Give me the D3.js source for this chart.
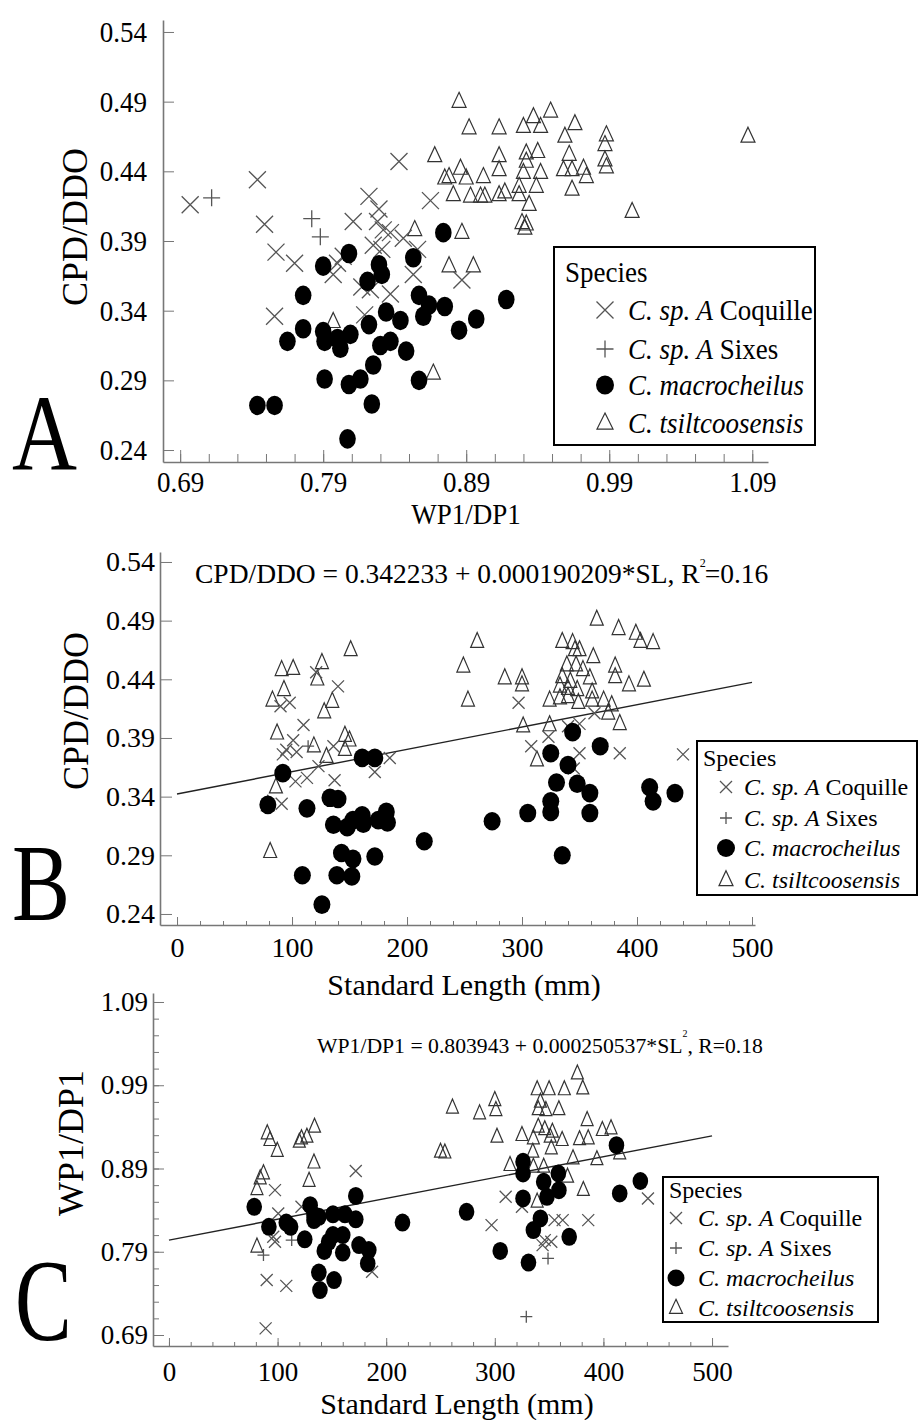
<!DOCTYPE html>
<html>
<head>
<meta charset="utf-8">
<script src="https://cdn.jsdelivr.net/npm/d3@7"></script>
<style>
  body { margin: 0; background: #fff; }
  text { font-family: "Liberation Serif", "Times New Roman", serif; }
</style>
</head>
<body>
<svg id="fig" width="919" height="1420"></svg>
<script>
// ---- data ----
const legendLabels = [
  [["C. sp. A", true], [" Coquille", false]],
  [["C. sp. A", true], [" Sixes", false]],
  [["C. macrocheilus", true]],
  [["C. tsiltcoosensis", true]],
];
const ticksCPD = [0.24, 0.29, 0.34, 0.39, 0.44, 0.49, 0.54];
const ticksWP = [0.69, 0.79, 0.89, 0.99, 1.09];
const ticksSL = [0, 100, 200, 300, 400, 500];

// A: WP1/DP1 (x) vs CPD/DDO (y)
const aCoquille = [[0.697,0.416],[0.744,0.434],[0.749,0.402],[0.757,0.382],[0.770,0.374],[0.756,0.336],[0.843,0.447],[0.822,0.422],[0.829,0.413],[0.811,0.404],[0.828,0.404],[0.832,0.398],[0.837,0.396],[0.846,0.392],[0.825,0.387],[0.831,0.384],[0.856,0.384],[0.804,0.379],[0.800,0.374],[0.797,0.366],[0.817,0.357],[0.823,0.355],[0.837,0.352],[0.853,0.366],[0.865,0.419],[0.887,0.362],[0.819,0.337]];
const aSixes = [[0.712,0.421],[0.782,0.406],[0.788,0.393]];
const aMacro = [[0.808,0.381],[0.790,0.372],[0.829,0.373],[0.831,0.366],[0.821,0.361],[0.853,0.378],[0.874,0.396],[0.776,0.351],[0.857,0.351],[0.864,0.344],[0.875,0.343],[0.860,0.336],[0.834,0.339],[0.844,0.333],[0.822,0.330],[0.776,0.327],[0.765,0.318],[0.790,0.325],[0.791,0.318],[0.800,0.320],[0.809,0.323],[0.802,0.313],[0.830,0.315],[0.837,0.318],[0.848,0.311],[0.825,0.301],[0.885,0.326],[0.897,0.334],[0.791,0.291],[0.808,0.287],[0.816,0.291],[0.857,0.290],[0.744,0.272],[0.756,0.272],[0.824,0.273],[0.807,0.248],[0.918,0.348]];
const aTsilt = [[0.885,0.490],[0.892,0.471],[0.913,0.471],[0.930,0.472],[0.937,0.479],[0.942,0.472],[0.949,0.483],[0.959,0.465],[0.966,0.474],[0.988,0.466],[0.987,0.459],[0.987,0.448],[0.988,0.443],[1.087,0.465],[1.006,0.411],[0.868,0.451],[0.875,0.435],[0.886,0.442],[0.890,0.435],[0.902,0.436],[0.913,0.451],[0.913,0.441],[0.932,0.453],[0.940,0.454],[0.932,0.447],[0.942,0.439],[0.930,0.439],[0.962,0.452],[0.958,0.441],[0.964,0.441],[0.972,0.442],[0.974,0.436],[0.964,0.427],[0.881,0.423],[0.893,0.422],[0.900,0.422],[0.903,0.422],[0.913,0.423],[0.917,0.425],[0.927,0.423],[0.927,0.429],[0.939,0.429],[0.934,0.416],[0.929,0.403],[0.932,0.402],[0.931,0.399],[0.887,0.396],[0.878,0.372],[0.895,0.372],[0.867,0.295],[0.878,0.436],[0.854,0.398],[0.797,0.332]];

// B: standard length (x) vs CPD/DDO (y)
const bCoquille = [[121,0.446],[140,0.434],[98,0.420],[90,0.417],[110,0.401],[101,0.388],[95,0.380],[92,0.376],[104,0.378],[136,0.383],[123,0.366],[185,0.373],[172,0.361],[103,0.353],[113,0.356],[137,0.354],[91,0.334],[297,0.420],[308,0.383],[323,0.391],[340,0.400],[350,0.402],[363,0.411],[350,0.377],[385,0.377],[440,0.376],[345,0.364]];
const bSixes = [[114,0.383]];
const bMacro = [[161,0.373],[172,0.373],[92,0.360],[79,0.333],[113,0.330],[133,0.339],[140,0.338],[136,0.316],[148,0.314],[161,0.324],[162,0.317],[175,0.320],[182,0.327],[183,0.318],[153,0.320],[143,0.292],[153,0.287],[172,0.289],[215,0.302],[109,0.273],[139,0.273],[152,0.272],[126,0.248],[344,0.395],[368,0.383],[325,0.377],[340,0.367],[330,0.352],[348,0.351],[359,0.343],[325,0.336],[325,0.327],[305,0.326],[359,0.326],[274,0.319],[335,0.290],[411,0.348],[414,0.336],[433,0.343]];
const bTsilt = [[151,0.465],[91,0.448],[101,0.449],[126,0.454],[122,0.440],[93,0.431],[83,0.422],[135,0.421],[128,0.412],[87,0.394],[119,0.383],[146,0.392],[150,0.388],[146,0.380],[130,0.374],[86,0.348],[81,0.293],[79,0.333],[365,0.491],[384,0.483],[399,0.479],[403,0.472],[414,0.471],[261,0.472],[249,0.451],[253,0.422],[285,0.441],[300,0.441],[300,0.435],[335,0.472],[344,0.471],[346,0.465],[350,0.465],[362,0.459],[339,0.452],[347,0.452],[353,0.448],[381,0.451],[381,0.442],[393,0.435],[406,0.439],[335,0.442],[342,0.438],[359,0.441],[333,0.434],[340,0.432],[348,0.431],[361,0.429],[324,0.422],[333,0.424],[340,0.425],[349,0.420],[361,0.422],[371,0.422],[378,0.418],[375,0.411],[385,0.402],[301,0.400],[324,0.401],[313,0.371]];
const fitB = [0.342233, 0.000190209];

// C: standard length (x) vs WP1/DP1 (y)
const cCoquille = [[172,0.887],[97.6,0.864],[100.6,0.836],[122,0.844],[97.6,0.802],[96,0.808],[90,0.756],[108,0.749],[89,0.698],[187,0.766],[310,0.856],[297,0.822],[325,0.844],[355,0.828],[362.5,0.828],[386,0.828],[346,0.804],[352,0.802],[344,0.798],[441,0.854]];
const cSixes = [[113,0.804],[87,0.786],[349,0.782],[329,0.712]];
const cMacro = [[78.5,0.844],[92,0.820],[108,0.825],[112,0.820],[125,0.805],[130,0.846],[133.5,0.834],[138,0.832],[151,0.835],[162,0.835],[172,0.857],[172,0.829],[133.5,0.828],[151,0.810],[160,0.810],[147,0.802],[143,0.791],[160,0.789],[175,0.798],[184,0.792],[183,0.776],[138,0.765],[152,0.756],[139,0.744],[215,0.825],[412,0.918],[326,0.898],[326,0.884],[358.5,0.884],[345,0.874],[359,0.864],[348,0.856],[326,0.854],[434,0.875],[415,0.860],[274,0.838],[342,0.830],[335.5,0.816],[368.5,0.808],[305,0.791],[331,0.777]];
const cTsilt = [[90.5,0.932],[93,0.924],[99.7,0.911],[122,0.926],[127,0.928],[120,0.922],[134,0.940],[133.5,0.897],[129,0.875],[87,0.884],[84,0.878],[81,0.865],[81,0.796],[376,1.004],[381,0.986],[339,0.985],[350,0.985],[364,0.985],[342,0.970],[340,0.961],[347,0.960],[359,0.961],[385,0.948],[261,0.963],[286,0.956],[300,0.972],[301,0.960],[302,0.928],[340,0.940],[346,0.937],[353,0.934],[325,0.930],[335.5,0.926],[351,0.928],[362,0.924],[378,0.925],[386,0.926],[399,0.936],[407,0.938],[335,0.910],[352,0.914],[250,0.910],[254,0.909],[314,0.894],[335.5,0.892],[345,0.892],[372,0.902],[394,0.901],[415,0.908],[367,0.880],[381.5,0.864],[339,0.850]];
const fitC = [0.803943, 0.000250537];

// ---- drawing ----
const svg = d3.select("#fig");

function addText(g, x, y, size, opts = {}) {
  let tf = `translate(${x},${y})`;
  if (opts.rotate) tf += ` rotate(${opts.rotate})`;
  if (opts.sy) tf += ` scale(1,${opts.sy})`;
  return g.append("text")
    .attr("transform", tf)
    .attr("font-size", size)
    .attr("text-anchor", opts.anchor || "start")
    .attr("fill", "#000");
}

function crossPath(s) { return `M${-s},${-s}L${s},${s}M${-s},${s}L${s},${-s}`; }
function plusPath(s) { return `M${-s},0H${s}M0,${-s}V${s}`; }
function triPath(w, h) { return `M0,${-h * 0.62}L${w / 2},${h * 0.38}L${-w / 2},${h * 0.38}Z`; }

// one marker of a given kind: 0 cross, 1 plus, 2 dot, 3 triangle
function drawMarker(g, kind, m) {
  if (kind === 0) return g.append("path").attr("d", crossPath(m.cross)).attr("stroke", "#555").attr("stroke-width", 1.3).attr("fill", "none");
  if (kind === 1) return g.append("path").attr("d", plusPath(m.cross)).attr("stroke", "#555").attr("stroke-width", 1.3).attr("fill", "none");
  if (kind === 2) return g.append("ellipse").attr("rx", m.rx).attr("ry", m.ry).attr("fill", "#000");
  return g.append("path").attr("d", triPath(m.tw, m.th)).attr("stroke", "#333").attr("stroke-width", 1.2).attr("fill", "none");
}

function series(g, data, kind, x, y, m) {
  const s = g.append("g");
  data.forEach(d => {
    drawMarker(s, kind, m).attr("transform", `translate(${x(d[0])},${y(d[1])})`);
  });
}

// stretch axis labels vertically around their own centre, like the source figure
function stretchLabels(sel, sy, cy) {
  if (!sy) return;
  sel.attr("transform", function () {
    return `translate(0,${cy}) scale(1,${sy}) translate(0,${-cy})`;
  });
}

function drawPanel(o) {
  const g = svg.append("g");
  const x = d3.scaleLinear().domain(o.xDomain).range(o.xRange);
  const y = d3.scaleLinear().domain(o.yDomain).range(o.yRange);
  const x0 = o.xRange[0], yb = o.yRange[0];

  // x axis: minor then major
  g.append("g").attr("transform", `translate(0,${yb})`).attr("color", "#777")
    .call(d3.axisBottom(x).tickValues(o.xMinor).tickSizeInner(-o.xMinorLen).tickSizeOuter(0).tickFormat(""))
    .call(s => s.select(".domain").remove());
  const xa = g.append("g").attr("transform", `translate(0,${yb})`).attr("color", "#777")
    .call(d3.axisBottom(x).tickValues(o.xTicks).tickSizeInner(-o.xMajorLen).tickSizeOuter(0)
      .tickPadding(o.xPad).tickFormat(o.xFormat));
  xa.selectAll("text").attr("font-size", o.tickFont).attr("fill", "#000");
  stretchLabels(xa.selectAll("text"), o.tickSy, o.xPad + o.tickFont * 0.38);
  xa.select(".domain").attr("stroke-width", 1.6);

  if (o.yMinor) {
    g.append("g").attr("transform", `translate(${x0},0)`).attr("color", "#777")
      .call(d3.axisLeft(y).tickValues(o.yMinor).tickSizeInner(-o.yMinorLen).tickSizeOuter(0).tickFormat(""))
      .call(s => s.select(".domain").remove());
  }
  const ya = g.append("g").attr("transform", `translate(${x0},0)`).attr("color", "#777")
    .call(d3.axisLeft(y).tickValues(o.yTicks).tickSizeInner(-o.yMajorLen).tickSizeOuter(0)
      .tickPadding(o.yPad).tickFormat(d3.format(".2f")));
  ya.selectAll("text").attr("font-size", o.tickFont).attr("fill", "#000");
  stretchLabels(ya.selectAll("text"), o.tickSy, 0);
  ya.select(".domain").attr("stroke-width", 1.6);

  // regression line
  if (o.fit) {
    const line = d3.line().x(d => x(d)).y(d => y(o.fit[0] + o.fit[1] * d));
    g.append("path").attr("d", line([0, 500])).attr("stroke", "#222").attr("stroke-width", 1.4).attr("fill", "none");
  }

  // points
  series(g, o.data[3], 3, x, y, o.m);
  series(g, o.data[0], 0, x, y, o.m);
  series(g, o.data[1], 1, x, y, o.m);
  series(g, o.data[2], 2, x, y, o.m);

  // axis titles and panel letter
  addText(g, o.xTitle[0], o.xTitle[1], o.xTitle[3], { anchor: "middle", sy: o.tickSy }).text(o.xTitle[2]);
  addText(g, o.yTitle[0], o.yTitle[1], o.yTitle[3], { anchor: "middle", rotate: -90 }).text(o.yTitle[2]);
  addText(g, o.letter[0], o.letter[1], o.letter[3], { sy: o.letter[4] }).text(o.letter[2]);

  // legend
  const L = o.legend;
  const lg = g.append("g");
  lg.append("rect").attr("x", L.box[0]).attr("y", L.box[1])
    .attr("width", L.box[2] - L.box[0]).attr("height", L.box[3] - L.box[1])
    .attr("fill", "#fff").attr("stroke", "#000").attr("stroke-width", 2);
  addText(lg, L.titleX, L.titleY, L.size, { sy: L.sy }).text("Species");
  legendLabels.forEach((parts, i) => {
    const cy = L.rows[i];
    drawMarker(lg, i, L.m).attr("transform", `translate(${L.symX},${cy})`);
    const t = addText(lg, L.textX, cy + L.size * 0.33 * (L.sy || 1), L.size, { sy: L.sy });
    parts.forEach(p => t.append("tspan").attr("font-style", p[1] ? "italic" : "normal").text(p[0]));
  });
  return g;
}

const minor = (a, step, n) => d3.range(n).map(i => +(a + i * step).toFixed(4));

// Panel A
drawPanel({
  xDomain: [0.678, 1.101], xRange: [163, 768],
  yDomain: [0.2314, 0.5486], yRange: [462, 20],
  xTicks: ticksWP, xMinor: minor(0.69, 0.02, 21), xMinorLen: 8, xMajorLen: 12, xPad: 10,
  xFormat: d3.format(".2f"),
  yTicks: ticksCPD, yMajorLen: 11, yPad: 16,
  tickFont: 27, tickSy: 1.1,
  data: [aCoquille, aSixes, aMacro, aTsilt],
  m: { cross: 8.5, rx: 8.3, ry: 9.8, tw: 14, th: 15 },
  xTitle: [466, 524, "WP1/DP1", 27],
  yTitle: [87, 227, "CPD/DDO", 36],
  letter: [12, 470, "A", 90, 1.21],
  legend: { box: [554, 247, 815, 445], titleX: 565, titleY: 282, size: 27, sy: 1.12,
    symX: 605, textX: 628, rows: [310, 349, 385, 423],
    m: { cross: 8.5, rx: 9, ry: 9.5, tw: 16, th: 16 } },
});

// Panel B
const pB = drawPanel({
  xDomain: [-14.8, 502.6], xRange: [160, 755],
  yDomain: [0.2306, 0.5485], yRange: [925, 552],
  xTicks: ticksSL, xMinor: minor(0, 20, 26), xMinorLen: 4, xMajorLen: 8, xPad: 12,
  xFormat: d3.format("d"),
  yTicks: ticksCPD, yMajorLen: 12, yPad: 5,
  tickFont: 28,
  fit: fitB,
  data: [bCoquille, bSixes, bMacro, bTsilt],
  m: { cross: 6, rx: 8.5, ry: 9.3, tw: 13, th: 15 },
  xTitle: [464, 995, "Standard Length (mm)", 30],
  yTitle: [88, 711, "CPD/DDO", 36],
  letter: [12, 920, "B", 87, 1.27],
  legend: { box: [697, 741, 917, 895], titleX: 703, titleY: 766, size: 24,
    symX: 726, textX: 744, rows: [787, 818, 848, 880],
    m: { cross: 6, rx: 9, ry: 9, tw: 14, th: 15 } },
});
const eqB = addText(pB, 195, 583, 27.5).text("CPD/DDO = 0.342233 + 0.000190209*SL, R");
eqB.append("tspan").attr("font-size", 12).attr("dx", 0).attr("dy", -16).text("2");
eqB.append("tspan").attr("dx", -1).attr("dy", 16).text("=0.16");

// Panel C
const pC = drawPanel({
  xDomain: [-14.7, 514.7], xRange: [153, 728],
  yDomain: [0.6768, 1.1008], yRange: [1346, 993],
  xTicks: ticksSL, xMinor: minor(0, 20, 26), xMinorLen: 4, xMajorLen: 8, xPad: 16,
  xFormat: d3.format("d"),
  yTicks: ticksWP, yMinor: minor(0.69, 0.02, 21), yMinorLen: 6, yMajorLen: 11, yPad: 5,
  tickFont: 27,
  fit: fitC,
  data: [cCoquille, cSixes, cMacro, cTsilt],
  m: { cross: 6, rx: 7.8, ry: 9, tw: 12, th: 14 },
  xTitle: [457, 1414, "Standard Length (mm)", 30],
  yTitle: [83, 1143, "WP1/DP1", 36],
  letter: [15, 1340, "C", 85, 1.36],
  legend: { box: [663, 1177, 878, 1322], titleX: 669, titleY: 1198, size: 24,
    symX: 676, textX: 698, rows: [1218, 1248, 1278, 1308],
    m: { cross: 6, rx: 8.5, ry: 8.5, tw: 13, th: 14 } },
});
const eqC = addText(pC, 317, 1053, 21.7).text("WP1/DP1 = 0.803943 + 0.000250537*SL");
eqC.append("tspan").attr("font-size", 10).attr("dx", 0).attr("dy", -16).text("2");
eqC.append("tspan").attr("dx", 0).attr("dy", 16).text(", R=0.18");
</script>
</body>
</html>
